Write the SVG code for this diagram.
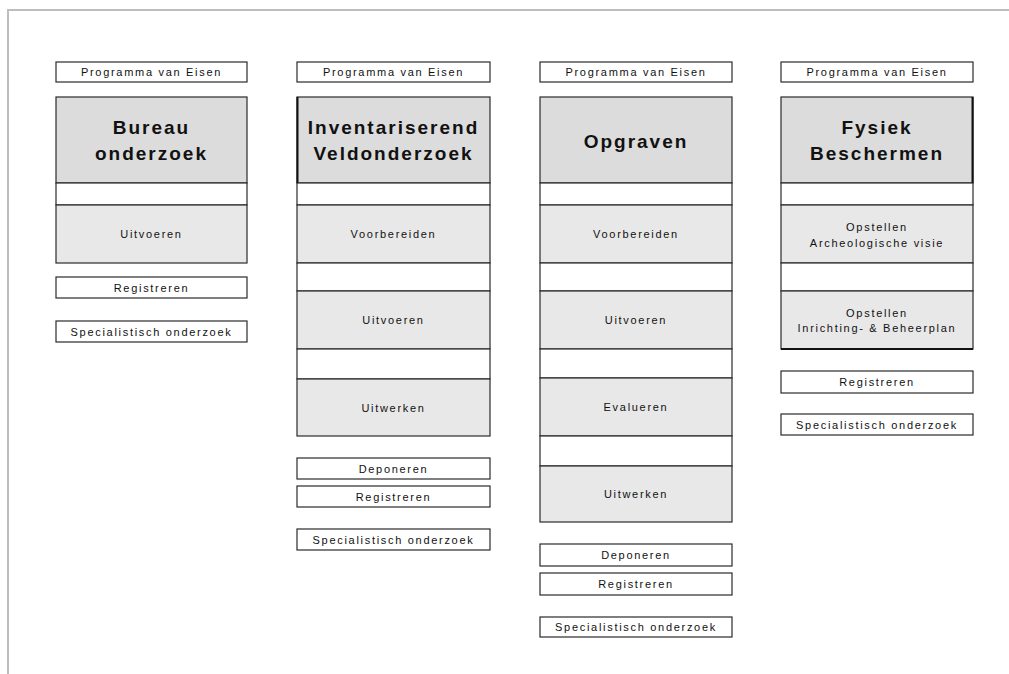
<svg xmlns="http://www.w3.org/2000/svg" width="1009" height="674" viewBox="0 0 1009 674">
<style>
.frame{fill:none;stroke:#bdbdbd;stroke-width:2}
.lbl{fill:#fff;stroke:#2a2a2a;stroke-width:1.2}
.ttl{fill:#dcdcdc;stroke:#2a2a2a;stroke-width:1.2}
.gap{fill:#fff;stroke:#2a2a2a;stroke-width:1.2}
.step{fill:#e8e8e8;stroke:#2a2a2a;stroke-width:1.2}
.s{font-family:"Liberation Sans",Arial,sans-serif;font-size:11px;letter-spacing:1.7px;fill:#111;text-anchor:middle}
.t{font-family:"Liberation Sans",Arial,sans-serif;font-size:19px;font-weight:bold;letter-spacing:2px;fill:#111;text-anchor:middle}
</style>
<rect width="1009" height="674" fill="#fff"/>
<path class="frame" d="M1009,10 H8 V674"/>
<g id="connectors"/>

<!-- Column 1 -->
<g id="col1-pve"><rect class="lbl" x="56" y="62" width="191" height="20"/><text class="s" x="151.5" y="76">Programma van Eisen</text></g>
<g id="col1-title"><rect class="ttl" x="56" y="97" width="191" height="86"/><text class="t" x="151.5" y="134">Bureau</text><text class="t" x="151.5" y="160">onderzoek</text></g>
<g id="col1-gap1"><rect class="gap" x="56" y="183" width="191" height="22"/></g>
<g id="col1-uitvoeren"><rect class="step" x="56" y="205" width="191" height="58"/><text class="s" x="151.5" y="238">Uitvoeren</text></g>
<g id="col1-registreren"><rect class="lbl" x="56" y="277" width="191" height="21"/><text class="s" x="151.5" y="291.5">Registreren</text></g>
<g id="col1-spec"><rect class="lbl" x="56" y="321" width="191" height="21"/><text class="s" x="151.5" y="335.5">Specialistisch onderzoek</text></g>

<!-- Column 2 -->
<g id="col2-pve"><rect class="lbl" x="297" y="62" width="193" height="20"/><text class="s" x="393.5" y="76">Programma van Eisen</text></g>
<g id="col2-title"><rect class="ttl" x="297" y="97" width="193" height="86"/><line x1="297.5" y1="97" x2="297.5" y2="183" stroke="#111" stroke-width="2"/><text class="t" x="393.5" y="134">Inventariserend</text><text class="t" x="393.5" y="160">Veldonderzoek</text></g>
<g id="col2-gap1"><rect class="gap" x="297" y="183" width="193" height="22"/></g>
<g id="col2-voorbereiden"><rect class="step" x="297" y="205" width="193" height="58"/><text class="s" x="393.5" y="238">Voorbereiden</text></g>
<g id="col2-gap2"><rect class="gap" x="297" y="263" width="193" height="28"/></g>
<g id="col2-uitvoeren"><rect class="step" x="297" y="291" width="193" height="58"/><text class="s" x="393.5" y="324">Uitvoeren</text></g>
<g id="col2-gap3"><rect class="gap" x="297" y="349" width="193" height="30"/></g>
<g id="col2-uitwerken"><rect class="step" x="297" y="379" width="193" height="57"/><text class="s" x="393.5" y="412">Uitwerken</text></g>
<g id="col2-deponeren"><rect class="lbl" x="297" y="458" width="193" height="21"/><text class="s" x="393.5" y="472.5">Deponeren</text></g>
<g id="col2-registreren"><rect class="lbl" x="297" y="486" width="193" height="21"/><text class="s" x="393.5" y="500.5">Registreren</text></g>
<g id="col2-spec"><rect class="lbl" x="297" y="529" width="193" height="21"/><text class="s" x="393.5" y="543.5">Specialistisch onderzoek</text></g>

<!-- Column 3 -->
<g id="col3-pve"><rect class="lbl" x="540" y="62" width="192" height="20"/><text class="s" x="636" y="76">Programma van Eisen</text></g>
<g id="col3-title"><rect class="ttl" x="540" y="97" width="192" height="86"/><text class="t" x="636" y="148">Opgraven</text></g>
<g id="col3-gap1"><rect class="gap" x="540" y="183" width="192" height="22"/></g>
<g id="col3-voorbereiden"><rect class="step" x="540" y="205" width="192" height="58"/><text class="s" x="636" y="238">Voorbereiden</text></g>
<g id="col3-gap2"><rect class="gap" x="540" y="263" width="192" height="28"/></g>
<g id="col3-uitvoeren"><rect class="step" x="540" y="291" width="192" height="58"/><text class="s" x="636" y="324">Uitvoeren</text></g>
<g id="col3-gap3"><rect class="gap" x="540" y="349" width="192" height="29"/></g>
<g id="col3-evalueren"><rect class="step" x="540" y="378" width="192" height="58"/><text class="s" x="636" y="411">Evalueren</text></g>
<g id="col3-gap4"><rect class="gap" x="540" y="436" width="192" height="30"/></g>
<g id="col3-uitwerken"><rect class="step" x="540" y="466" width="192" height="56"/><text class="s" x="636" y="498">Uitwerken</text></g>
<g id="col3-deponeren"><rect class="lbl" x="540" y="544" width="192" height="22"/><text class="s" x="636" y="559">Deponeren</text></g>
<g id="col3-registreren"><rect class="lbl" x="540" y="573" width="192" height="22"/><text class="s" x="636" y="588">Registreren</text></g>
<g id="col3-spec"><rect class="lbl" x="540" y="617" width="192" height="20"/><text class="s" x="636" y="631">Specialistisch onderzoek</text></g>

<!-- Column 4 -->
<g id="col4-pve"><rect class="lbl" x="781" y="62" width="192" height="20"/><text class="s" x="877" y="76">Programma van Eisen</text></g>
<g id="col4-title"><rect class="ttl" x="781" y="97" width="192" height="86"/><line x1="972.5" y1="97" x2="972.5" y2="183" stroke="#111" stroke-width="2"/><text class="t" x="877" y="134">Fysiek</text><text class="t" x="877" y="160">Beschermen</text></g>
<g id="col4-gap1"><rect class="gap" x="781" y="183" width="192" height="22"/></g>
<g id="col4-visie"><rect class="step" x="781" y="205" width="192" height="58"/><text class="s" x="877" y="231">Opstellen</text><text class="s" x="877" y="247">Archeologische visie</text></g>
<g id="col4-gap2"><rect class="gap" x="781" y="263" width="192" height="28"/></g>
<g id="col4-plan"><rect class="step" x="781" y="291" width="192" height="58"/><line x1="781" y1="349" x2="973" y2="349" stroke="#111" stroke-width="2"/><text class="s" x="877" y="317">Opstellen</text><text class="s" x="877" y="332">Inrichting- &amp; Beheerplan</text></g>
<g id="col4-registreren"><rect class="lbl" x="781" y="371" width="192" height="22"/><text class="s" x="877" y="386">Registreren</text></g>
<g id="col4-spec"><rect class="lbl" x="781" y="414" width="192" height="21"/><text class="s" x="877" y="428.5">Specialistisch onderzoek</text></g>
</svg>
